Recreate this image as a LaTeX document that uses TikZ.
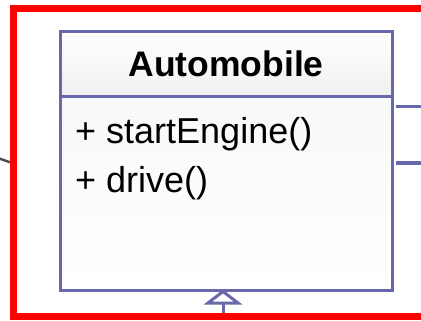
\documentclass[tikz,border=0pt]{standalone}
\usepackage{fontspec}
\setmainfont{Liberation Sans}
\usetikzlibrary{arrows.meta}
\definecolor{umlline}{RGB}{104,104,172}
\definecolor{hiliteRed}{RGB}{255,0,0}
\tikzset{
  umlbox/.style={draw=umlline, line width=3pt},
  umlconn/.style={draw=umlline, line width=3pt},
  titletext/.style={font=\fontsize{35.5}{40}\selectfont\bfseries, inner sep=0pt},
  membertext/.style={font=\fontsize{36}{40}\selectfont, inner sep=0pt, anchor=base west},
}
\begin{document}
\begin{tikzpicture}[x=1pt, y=-1pt]
\useasboundingbox (0,0) rectangle (421,321);
\clip (0,0) rectangle (421,321);
\fill[white] (0,0) rectangle (421,321);
% class box
\shade[top color=white, bottom color=gray!12] (60,32) rectangle (392,97);
\shade[top color=gray!5, bottom color=white] (60,97) rectangle (392,290);
\draw[umlbox] (60,32) rectangle (392,290);
\draw[umlbox] (60,97) -- (392,97);
\node[titletext, anchor=base] (title) at (226,77) {Automobile};
\node[membertext] (m1) at (75,143) {+ startEngine()};
\node[membertext] (m2) at (75,192) {+ drive()};
% connectors
\coordinate (r1a) at (396,107);
\coordinate (r1b) at (425,107);
\coordinate (r2a) at (396,163);
\coordinate (r2b) at (425,163);
\draw[umlconn] (r1a) -- (r1b);
\draw[umlconn] (r2a) -- (r2b);
\coordinate (lg1) at (-2,158);
\coordinate (lg2) at (12,163);
\draw[draw=gray!60!black, line width=2.4pt] (lg1) -- (lg2);
% generalization
\coordinate (genfrom) at (223,316);
\coordinate (genbase) at (223,303);
\coordinate (gento) at (223,291.5);
\draw[umlconn] (genfrom) -- (genbase);
\draw[umlconn, fill=white, line join=miter] (gento) -- (208,303) -- (238,303) -- cycle;
% red highlight frame
\draw[hiliteRed, line width=7.5pt] (13.5,8.5) rectangle (450,316.5);
\end{tikzpicture}
\end{document}
